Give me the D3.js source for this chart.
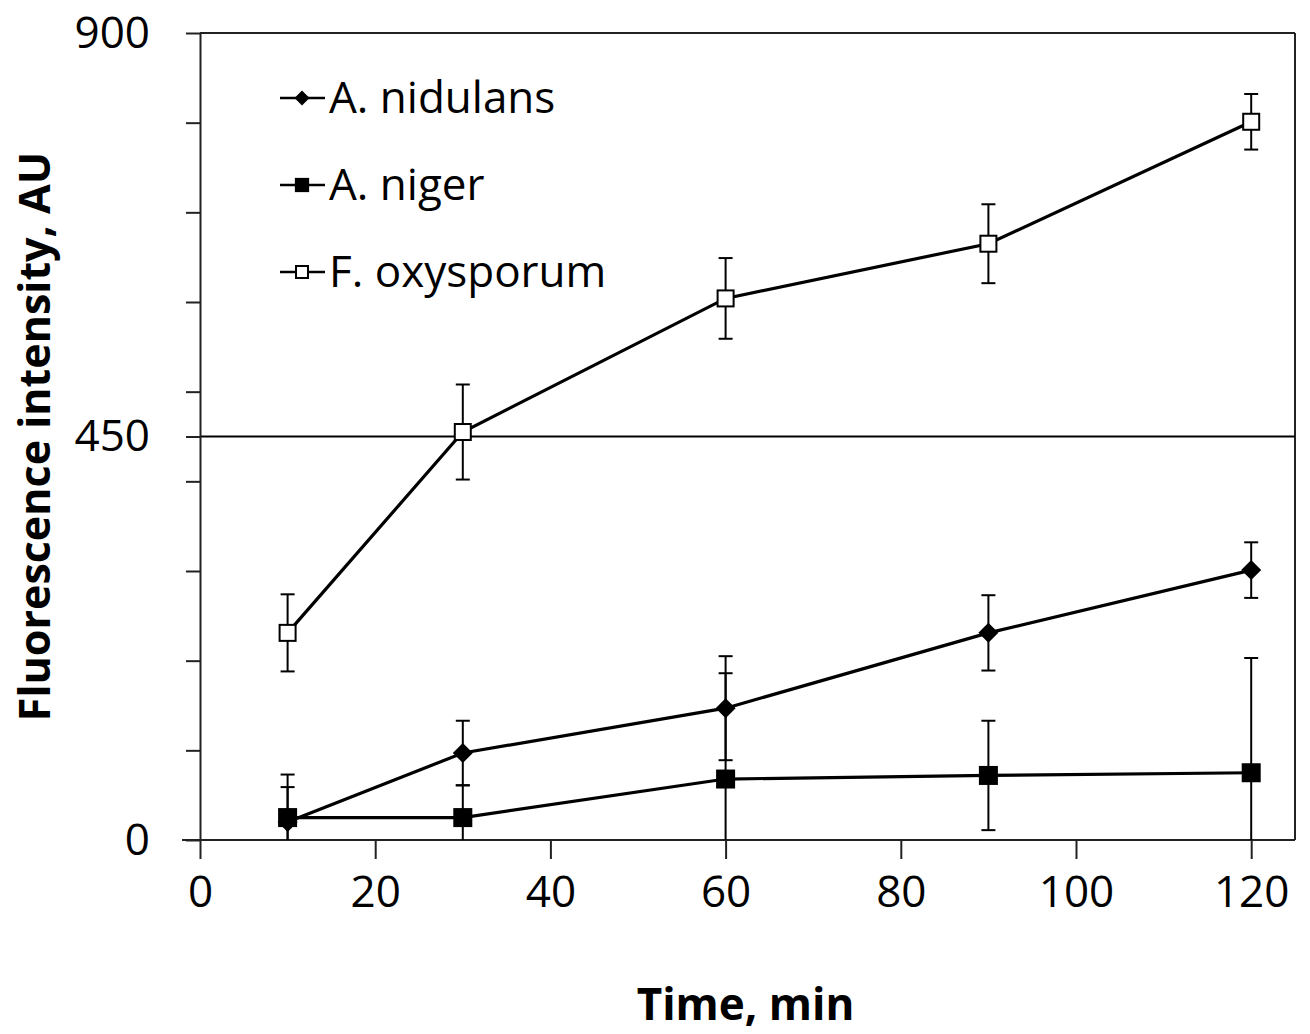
<!DOCTYPE html>
<html>
<head>
<meta charset="utf-8">
<script src="https://cdn.jsdelivr.net/npm/d3@7"></script>
<style>
  body { margin: 0; background: #fff; }
  text { font-family: "Open Sans", sans-serif; fill: #000; }
</style>
</head>
<body>
<svg id="canvas" width="1310" height="1034"></svg>
<script>
// ---------------------------------------------------------------- //
// Data

var times = [10, 30, 60, 90, 120];

var nidulans_vals = [20, 97, 147, 231, 301];
var nidulans_err  = [39, 36, 58, 42, 31];

var niger_vals = [25, 25, 68, 72, 75];
var niger_err  = [48, 36, 118, 61, 128];

var oxy_vals = [231, 455, 604, 665, 801];
var oxy_err  = [43, 53, 45, 44, 31];

var series_names = ['A. nidulans', 'A. niger', 'F. oxysporum'];
var x_ticks = [0, 20, 40, 60, 80, 100, 120];
var y_major = [0, 450, 900];
var y_minor = [100, 200, 300, 400, 500, 600, 700, 800];

// ---------------------------------------------------------------- //
// Scales

var svg = d3.select('#canvas');
var x = d3.scaleLinear().domain([0, 125]).range([200, 1295]);
var y = d3.scaleLinear().domain([0, 900]).range([840, 33]);

var series = [
  { name: series_names[0], vals: nidulans_vals, err: nidulans_err, shape: 'diamond' },
  { name: series_names[1], vals: niger_vals,    err: niger_err,    shape: 'square' },
  { name: series_names[2], vals: oxy_vals,      err: oxy_err,      shape: 'open' }
];

// frame: top and right borders
svg.append('line').attr('x1', x(0)).attr('x2', x(125)).attr('y1', y(900)).attr('y2', y(900))
  .attr('stroke', '#222').attr('stroke-width', 2);
svg.append('line').attr('x1', x(125)).attr('x2', x(125)).attr('y1', y(900)).attr('y2', y(0))
  .attr('stroke', '#222').attr('stroke-width', 2);

// gridline at 450
svg.append('line').attr('x1', x(0)).attr('x2', x(125)).attr('y1', y(450)).attr('y2', y(450))
  .attr('stroke', '#000').attr('stroke-width', 2);

// y axis
var yAxis = svg.append('g').attr('transform', 'translate(' + x(0) + ',0)')
  .call(d3.axisLeft(y).tickValues(y_major.concat(y_minor)).tickSize(14).tickSizeOuter(0)
    .tickFormat(function(d){ return y_major.indexOf(d) >= 0 ? d : ''; }));
yAxis.selectAll('text').attr('x', -50).style('font-size', '44px');

// x axis
var xAxis = svg.append('g').attr('transform', 'translate(0,' + y(0) + ')')
  .call(d3.axisBottom(x).tickValues(x_ticks).tickSize(19).tickSizeOuter(0));
xAxis.selectAll('text').attr('y', 36).style('font-size', '44px');
xAxis.select('.domain').attr('d', 'M' + (x(0) - 18) + ',0H' + x(125));

svg.selectAll('.domain').attr('stroke', '#222').attr('stroke-width', 2);
svg.selectAll('.tick line').attr('stroke', '#222').attr('stroke-width', 2);
svg.selectAll('.tick text').attr('fill', '#000').style('font-family', '"Open Sans", sans-serif');

// axis titles
svg.append('text').attr('x', x(62.5) - 2).attr('y', 1020).attr('text-anchor', 'middle')
  .style('font-size', '44px').style('font-weight', 'bold').text('Time, min');
svg.append('text').attr('transform', 'translate(50,' + y(450) + ') rotate(-90)')
  .attr('text-anchor', 'middle').style('font-size', '43px').style('font-weight', 'bold')
  .text('Fluorescence intensity, AU');

// ---------------------------------------------------------------- //
// Markers

function drawMarker(g, shape, cx, cy, scale){
  var s = scale || 1;
  if(shape == 'diamond'){
    var r = 10 * s;
    g.append('path').attr('d', 'M' + cx + ',' + (cy - r) + 'L' + (cx + r) + ',' + cy + 'L' + cx + ',' + (cy + r) + 'L' + (cx - r) + ',' + cy + 'Z')
      .attr('fill', '#000');
  } else if(shape == 'square'){
    var h = 9.5 * s;
    g.append('rect').attr('x', cx - h).attr('y', cy - h).attr('width', 2 * h).attr('height', 2 * h).attr('fill', '#000');
  } else {
    var h = 8 * s;
    g.append('rect').attr('x', cx - h).attr('y', cy - h).attr('width', 2 * h).attr('height', 2 * h)
      .attr('fill', '#fff').attr('stroke', '#000').attr('stroke-width', 2);
  }
}

// ---------------------------------------------------------------- //
// Series: error bars, lines, markers

var line = d3.line().x(function(d){ return x(d[0]); }).y(function(d){ return y(d[1]); });

series.forEach(function(s){
  var g = svg.append('g');
  for(var i = 0; i < times.length; i++){
    var top = s.vals[i] + s.err[i];
    var bot = Math.max(0, s.vals[i] - s.err[i]);
    var cx = x(times[i]);
    g.append('line').attr('x1', cx).attr('x2', cx).attr('y1', y(top)).attr('y2', y(bot))
      .attr('stroke', '#000').attr('stroke-width', 2);
    g.append('line').attr('x1', cx - 7).attr('x2', cx + 7).attr('y1', y(top)).attr('y2', y(top))
      .attr('stroke', '#000').attr('stroke-width', 2);
    if(s.vals[i] - s.err[i] > 0){
      g.append('line').attr('x1', cx - 7).attr('x2', cx + 7).attr('y1', y(bot)).attr('y2', y(bot))
        .attr('stroke', '#000').attr('stroke-width', 2);
    }
  }
  g.append('path').datum(times.map(function(t, i){ return [t, s.vals[i]]; }))
    .attr('d', line).attr('fill', 'none').attr('stroke', '#000').attr('stroke-width', 3.2);
  for(var i = 0; i < times.length; i++){
    drawMarker(g, s.shape, x(times[i]), y(s.vals[i]));
  }
});

// ---------------------------------------------------------------- //
// Legend

var legend_y = [98, 185, 272];
series.forEach(function(s, i){
  var g = svg.append('g');
  g.append('line').attr('x1', 280).attr('x2', 325).attr('y1', legend_y[i]).attr('y2', legend_y[i])
    .attr('stroke', '#000').attr('stroke-width', 2.5);
  drawMarker(g, s.shape, 302, legend_y[i], 0.75);
  g.append('text').attr('x', 329).attr('y', legend_y[i]).attr('dy', '0.35em')
    .style('font-size', '44px').text(s.name);
});
</script>
</body>
</html>
